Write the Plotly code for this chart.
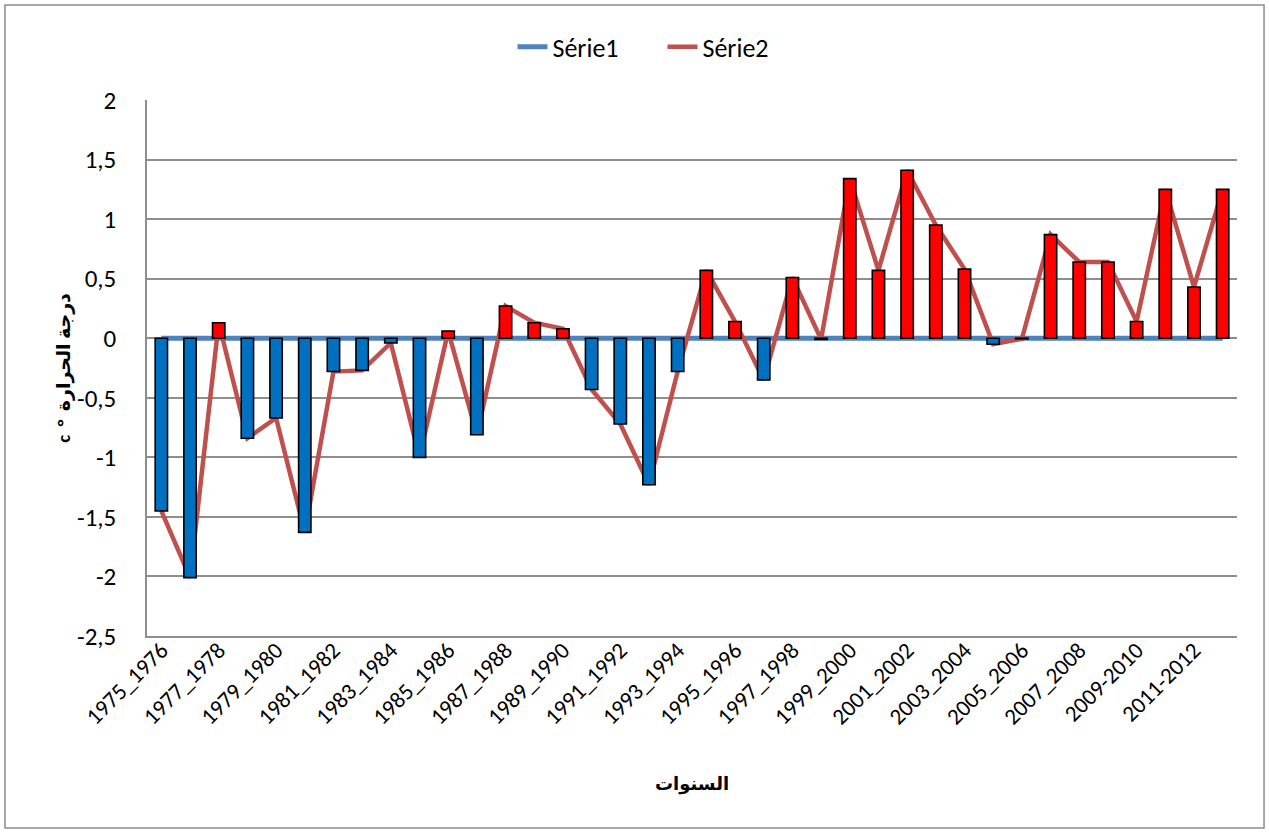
import plotly.graph_objects as go

# Seasons on the category axis (every other one is labelled)
periods = [
    "1975_1976", "1976_1977", "1977_1978", "1978_1979", "1979_1980",
    "1980_1981", "1981_1982", "1982_1983", "1983_1984", "1984_1985",
    "1985_1986", "1986_1987", "1987_1988", "1988_1989", "1989_1990",
    "1990_1991", "1991_1992", "1992_1993", "1993_1994", "1994_1995",
    "1995_1996", "1996_1997", "1997_1998", "1998_1999", "1999_2000",
    "2000_2001", "2001_2002", "2002_2003", "2003_2004", "2004_2005",
    "2005_2006", "2006_2007", "2007_2008", "2008_2009", "2009-2010",
    "2010-2011", "2011-2012", "2012-2013",
]

# Série1: reference line at zero
serie1 = [
    0, 0, 0, 0, 0, 0, 0, 0, 0, 0,
    0, 0, 0, 0, 0, 0, 0, 0, 0, 0,
    0, 0, 0, 0, 0, 0, 0, 0, 0, 0,
    0, 0, 0, 0, 0, 0, 0, 0,
]

# Série2: temperature anomaly (°C)
serie2 = [
    -1.45, -2.01, 0.13, -0.84, -0.67, -1.63, -0.28, -0.27, -0.04, -1.00,
    0.06, -0.81, 0.27, 0.13, 0.08, -0.43, -0.72, -1.23, -0.28, 0.57,
    0.14, -0.35, 0.51, -0.01, 1.34, 0.57, 1.41, 0.95, 0.58, -0.05,
    -0.005, 0.87, 0.64, 0.64, 0.14, 1.25, 0.43, 1.25,
]

y_tick_vals = [2, 1.5, 1, 0.5, 0, -0.5, -1, -1.5, -2, -2.5]
y_tick_text = ["2", "1,5", "1", "0,5", "0", "-0,5", "-1", "-1,5", "-2", "-2,5"]

label_font = "Calibri, Lato, 'DejaVu Sans', sans-serif"
grid_color = "#8E8E8E"

# up/down bars between the two series
bar_heights = [b - a for a, b in zip(serie1, serie2)]
bar_colors = ["#FF0000" if h >= 0 else "#0070C0" for h in bar_heights]

fig = go.Figure()

fig.add_trace(go.Scatter(
    x=periods, y=serie1, name="Série1", mode="lines",
    line=dict(color="#4F81BD", width=5),
))
fig.add_trace(go.Scatter(
    x=periods, y=serie2, name="Série2", mode="lines",
    line=dict(color="#C0504D", width=4.5),
))
fig.add_trace(go.Bar(
    x=periods, y=bar_heights, base=serie1, yaxis="y2",
    width=0.43, showlegend=False, hoverinfo="skip",
    marker=dict(color=bar_colors, line=dict(color="#000000", width=1.6)),
))

fig.update_layout(
    width=1269, height=833,
    margin=dict(l=147, r=32, t=100, b=197),
    paper_bgcolor="white", plot_bgcolor="white",
    font=dict(family=label_font, size=23, color="#000000"),
    showlegend=True,
    legend=dict(
        orientation="h", x=0.3353, xanchor="left", y=1.099, yanchor="middle",
        font=dict(size=26), bgcolor="rgba(0,0,0,0)",
        entrywidth=105, entrywidthmode="pixels",
    ),
    xaxis=dict(
        type="category",
        tickmode="array", tickvals=periods[::2], ticktext=periods[::2],
        tickangle=-45, tickfont=dict(size=23),
        showgrid=False, zeroline=False,
        showline=True, linecolor=grid_color, linewidth=1.5,
        ticks="", ticklabelstandoff=-10,
        title=dict(text="<b>السنوات</b>", font=dict(size=18), standoff=48),
    ),
    yaxis=dict(
        range=[-2.5, 2], tickmode="array",
        tickvals=y_tick_vals, ticktext=y_tick_text,
        tickfont=dict(size=25),
        showgrid=True, gridcolor=grid_color, gridwidth=1.5,
        zeroline=False,
        showline=True, linecolor=grid_color, linewidth=1.5,
        ticks="", ticklabelstandoff=24,
        title=dict(
            text="<b>c\u00a0\u00a0°\u00a0\u00a0درجة الحرارة</b>",
            font=dict(size=19), standoff=1,
        ),
    ),
    yaxis2=dict(
        range=[-2.5, 2], overlaying="y", visible=False,
        showgrid=False, zeroline=False,
    ),
)

# chart-area frame
fig.add_shape(
    type="rect", xref="paper", yref="paper",
    x0=-0.1303, x1=1.0248, y0=-0.3582, y1=1.1772,
    line=dict(color="#8C8C8C", width=1.5), fillcolor="rgba(0,0,0,0)",
    layer="below",
)

fig.write_html("out.html")
